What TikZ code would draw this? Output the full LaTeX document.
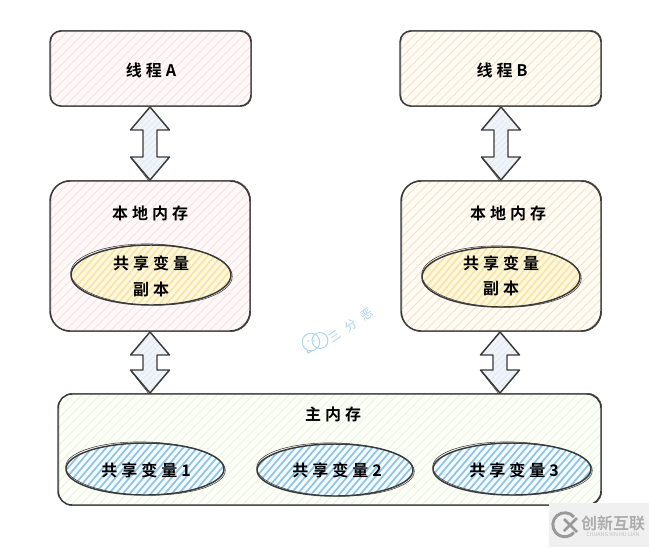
\documentclass[tikz,border=0pt]{standalone}
\usepackage{fontspec}
\usetikzlibrary{calc,shapes.geometric}
\setmainfont{Noto Sans CJK SC}[BoldFont={Noto Sans CJK SC Bold}]
\newfontfamily\hand[LetterSpace=25]{Noto Sans CJK SC Bold}
\newfontfamily\wmfont[LetterSpace=60]{Noto Sans CJK SC}
\definecolor{ink}{HTML}{3A3A3A}
\definecolor{pinkh}{HTML}{F8E0E0}\definecolor{pinkb}{HTML}{FEF8F8}
\definecolor{orah}{HTML}{F6E0C6}\definecolor{orab}{HTML}{FEFAF4}
\definecolor{greh}{HTML}{E8F4DA}\definecolor{greb}{HTML}{FCFEF8}
\definecolor{yelh}{HTML}{F9E4A0}\definecolor{yelb}{HTML}{FEF8E2}
\definecolor{bluh}{HTML}{8DC5EA}\definecolor{blub}{HTML}{F6FBFE}
\definecolor{arrh}{HTML}{E0EAF5}\definecolor{arrb}{HTML}{F1F5FA}
\definecolor{wmc}{HTML}{A9D6EA}
\tikzset{
  x=0.75pt,y=-0.75pt,
  skline/.style={draw=ink,line width=1.1pt,line join=round},
  skthin/.style={draw=ink,line width=0.4pt,line join=round},
  lbl/.style={font=\hand\fontsize{12}{14}\selectfont,text=black,inner sep=0pt,align=center},
}
% name, left, top, right, bottom, radius, fill, hatch
\newcommand{\skbox}[8]{%
  \begin{scope}
    \clip[rounded corners=#6*0.75pt] (#2,#3) rectangle (#4,#5);
    \fill[#7] (#2,#3) rectangle (#4,#5);
    \foreach \c in {0,9,...,1300} {\draw[#8,line width=0.75pt] (\c,0) -- (\c-700,700);}
  \end{scope}
  \draw[skline,rounded corners=#6*0.75pt] (#2,#3) rectangle (#4,#5);
  \draw[skthin,rounded corners=#6*0.75pt] (#2+0.8,#3-0.7) rectangle (#4+0.6,#5+0.6);
}
% name, cx, cy, rx, ry, fill, hatch, spacing
\newcommand{\skell}[8]{%
  \begin{scope}
    \clip (#2,#3) ellipse [x radius=#4*0.75pt,y radius=#5*0.75pt];
    \fill[#6] (#2-#4,#3-#5) rectangle (#2+#4,#3+#5);
    \foreach \c in {0,#8,...,1300} {\draw[#7,line width=1.3pt] (\c,0) -- (\c-600,700);}
  \end{scope}
  \node[draw=ink,line width=1.1pt,ellipse,minimum width=#4*1.5pt,minimum height=#5*1.5pt,inner sep=0pt] (#1) at (#2,#3) {};
  \draw[skthin,rotate around={-1.5:(#2,#3)}] (#2+0.5,#3-0.5) ellipse [x radius=#4*0.75pt+0.6pt,y radius=#5*0.75pt+0.4pt];
}
\newcommand{\dblarr}[2]{%
  \coordinate (tp) at (#1); \coordinate (bt) at (#2);
  \begin{scope}
    \clip (tp) -- ($(tp)+(19.5,23)$) -- ($(tp)+(7,23)$) -- ($(bt)+(7,-23)$) -- ($(bt)+(19.5,-23)$) -- (bt) -- ($(bt)+(-19.5,-23)$) -- ($(bt)+(-7,-23)$) -- ($(tp)+(-7,23)$) -- ($(tp)+(-19.5,23)$) -- cycle;
    \fill[arrb] ($(tp)+(-20,0)$) rectangle ($(bt)+(20,0)$);
    \foreach \c in {0,6,...,1300} {\draw[arrh,line width=0.75pt] (\c,0) -- (\c-700,700);}
  \end{scope}
  \draw[skline] (tp) -- ($(tp)+(19.5,23)$) -- ($(tp)+(7,23)$) -- ($(bt)+(7,-23)$) -- ($(bt)+(19.5,-23)$) -- (bt) -- ($(bt)+(-19.5,-23)$) -- ($(bt)+(-7,-23)$) -- ($(tp)+(-7,23)$) -- ($(tp)+(-19.5,23)$) -- cycle;
  \draw[skthin] ($(bt)+(-19,-22)$) -- ($(bt)+(-1,1)$);
}
\begin{document}
\begin{tikzpicture}
\useasboundingbox (0,0) rectangle (649,547);
\fill[white] (0,0) rectangle (649,547);

\skbox{ta}{50}{31}{251}{106}{11}{pinkb}{pinkh}
\skbox{tb}{400}{31}{601}{106}{11}{orab}{orah}
\skbox{la}{50}{181}{250}{331}{20}{pinkb}{pinkh}
\skbox{lb}{401}{181}{601}{331}{20}{orab}{orah}
\skbox{mm}{58}{394}{601}{505}{14}{greb}{greh}

\coordinate (a1t) at (150,107); \coordinate (a1b) at (150,180);
\coordinate (b1t) at (501,107); \coordinate (b1b) at (501,180);
\coordinate (a2t) at (150,332); \coordinate (a2b) at (150,393);
\coordinate (b2t) at (500,332); \coordinate (b2b) at (500,393);
\dblarr{a1t}{a1b}
\dblarr{b1t}{b1b}
\dblarr{a2t}{a2b}
\dblarr{b2t}{b2b}

\skell{ca}{151}{275}{80}{30}{yelb}{yelh}{7}
\skell{cb}{501}{277}{79}{30}{yelb}{yelh}{7}
\skell{s1}{145}{469}{79}{26}{blub}{bluh}{7}
\skell{s2}{335}{470}{78}{26}{blub}{bluh}{7}
\skell{s3}{512}{469}{79}{26}{blub}{bluh}{7}

\node[lbl] (tta) at (151,70) {线程A};
\node[lbl] (ttb) at (502,70) {线程B};
\node[lbl] (tla) at (150,213) {本地内存};
\node[lbl] (tlb) at (508,213) {本地内存};
\node[lbl] (tca1) at (151,263) {共享变量};
\node[lbl] (tca2) at (151,289) {副本};
\node[lbl] (tcb1) at (501,263) {共享变量};
\node[lbl] (tcb2) at (501,288) {副本};
\node[lbl] (tmm) at (333,414) {主内存};
\node[lbl] (ts1) at (146,470) {共享变量1};
\node[lbl] (ts2) at (337,470) {共享变量2};
\node[lbl] (ts3) at (514,470) {共享变量3};

% watermark
\draw[draw=wmc,line width=0.7pt,fill=white] (311,342) circle [radius=6.6pt];
\draw[draw=wmc,line width=0.7pt] (320,340.5) circle [radius=6pt];
\fill[wmc] (308,341) circle [radius=0.6pt] (314,341) circle [radius=0.6pt] (318,339) circle [radius=0.5pt] (323,339) circle [radius=0.5pt];
\draw[draw=wmc,line width=0.7pt] (307,350) -- (308,353) -- (312,351);
\node[text=wmc,rotate=35,inner sep=0pt,font=\wmfont\fontsize{9}{10}\selectfont] (wm) at (351,325) {三分恶};

% logo
\fill[black!6] (549,503) rectangle (649,547);
\draw[black!40,line width=2.2pt] (574,517) arc [start angle=40,end angle=320,radius=9pt];
\draw[black!40,line width=2pt] (564,519) -- (577,532) (564,531) -- (577,518);
\node[text=black!32,inner sep=0pt,font=\bfseries\fontsize{12}{13}\selectfont] (lg) at (613,523) {创新互联};
\node[text=black!25,inner sep=0pt,font=\fontsize{4}{5}\selectfont] (lg2) at (613,535) {CHUANG XIN HU LIAN};
\end{tikzpicture}
\end{document}
